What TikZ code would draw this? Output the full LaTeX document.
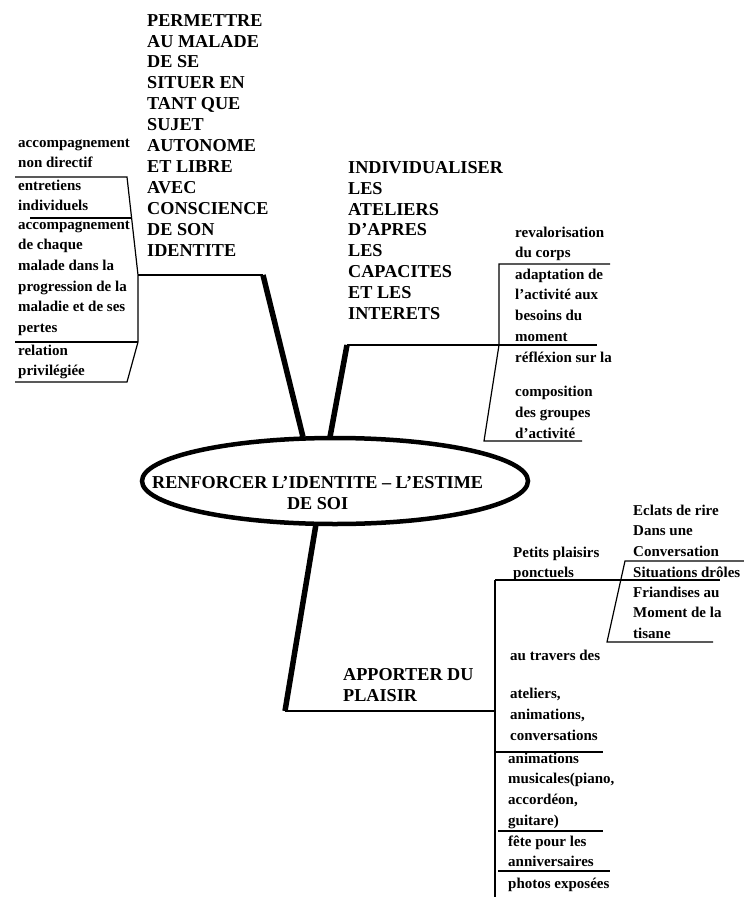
\documentclass[tikz,border=0pt]{standalone}
\usepackage{fontspec}
\setmainfont{Liberation Serif}
\usetikzlibrary{shapes.geometric}
\begin{document}
\begin{tikzpicture}[x=1pt,y=-1pt,
  bigtxt/.style={font=\fontsize{18.2}{20.9}\selectfont\bfseries, align=left,
    anchor=north west, inner sep=0pt, yshift=-2pt,
    execute at begin node={\rule{0pt}{14pt}}},
  smalltxt/.style={font=\fontsize{15}{20.7}\selectfont\bfseries, align=left,
    anchor=north west, inner sep=0pt, yshift=-2.5pt,
    execute at begin node={\rule{0pt}{11pt}}},
  branch/.style={line width=5.5pt},
  rule/.style={line width=1.2pt}]
\fill[white] (0,0) rectangle (744,897);
\useasboundingbox (0,0) rectangle (744,897);

% central theme
\node[draw, ellipse, line width=4.5pt, minimum width=386pt, minimum height=86pt,
  inner sep=0pt] (core) at (335,481) {};
\node[bigtxt, align=center] (coretxt) at (152,474)
  {RENFORCER L’IDENTITE – L’ESTIME\\DE SOI};

% branch 1 : identity
\node[bigtxt] (b1) at (147,12) {PERMETTRE\\AU MALADE\\DE SE\\SITUER EN\\TANT QUE\\SUJET\\AUTONOME\\ET LIBRE\\AVEC\\CONSCIENCE\\DE SON\\IDENTITE};
\coordinate (b1root) at (303,437);
\coordinate (b1knee) at (263,275);
\coordinate (b1end) at (138,275);
\draw[branch] (b1root) -- (b1knee);
\draw[rule] (b1knee) -- (b1end);

\node[smalltxt] (l1) at (18,136) {accompagnement\\non directif};
\node[smalltxt] (l2) at (18,177) {entretiens\\individuels};
\node[smalltxt] (l3) at (18,218) {accompagnement\\de chaque\\malade dans la\\progression de la\\maladie et de ses\\pertes};
\node[smalltxt] (l4) at (18,342) {relation\\privilégiée};
\draw[rule] (15,177) -- (127,177) -- (b1end) -- (138,342) -- (127,382) -- (15,382);
\draw[rule] (30,218) -- (132,218);
\draw[rule] (15,342) -- (138,342);

% branch 2 : workshops
\node[bigtxt] (b2) at (348,159) {INDIVIDUALISER\\LES\\ATELIERS\\D’APRES\\LES\\CAPACITES\\ET LES\\INTERETS};
\coordinate (b2root) at (330,437);
\coordinate (b2knee) at (347,345);
\coordinate (b2end) at (597,345);
\draw[branch] (b2root) -- (b2knee);
\draw[rule] (b2knee) -- (b2end);

\node[smalltxt] (r1) at (515,224) {revalorisation\\du corps};
\node[smalltxt] (r2) at (515,266) {adaptation de\\l’activité aux\\besoins du\\moment};
\node[smalltxt] (r3) at (515,349) {réfléxion sur la\\[14pt]composition\\des groupes\\d’activité};
\draw[rule] (610,264) -- (499,264) -- (499,345) -- (484,441) -- (582,441);

% branch 3 : pleasure
\node[bigtxt] (b3) at (343,666) {APPORTER DU\\PLAISIR};
\coordinate (b3root) at (316,524);
\coordinate (b3knee) at (285,711);
\coordinate (b3end) at (495,711);
\draw[branch] (b3root) -- (b3knee);
\draw[rule] (b3knee) -- (b3end);
\draw[rule] (495,580) -- (495,897);
\draw[rule] (495,580) -- (720,580);

\node[smalltxt] (p1) at (513,544) {Petits plaisirs\\ponctuels};
\node[smalltxt] (p2) at (633,502) {Eclats de rire\\Dans une\\Conversation};
\node[smalltxt] (p3) at (633,564) {Situations drôles};
\node[smalltxt] (p4) at (633,584) {Friandises au\\Moment de la\\tisane};
\draw[rule] (744,561) -- (625,561) -- (607,642) -- (713,642);

\node[smalltxt] (p5) at (510,647) {au travers des\\[18pt]ateliers,\\animations,\\conversations};
\node[smalltxt] (p6) at (508,750) {animations\\musicales(piano,\\accordéon,\\guitare)};
\node[smalltxt] (p7) at (508,833) {fête pour les\\anniversaires};
\node[smalltxt] (p8) at (508,875) {photos exposées};
\draw[rule] (495,752) -- (603,752);
\draw[rule] (498,831) -- (603,831);
\draw[rule] (498,871) -- (610,871);
\end{tikzpicture}
\end{document}
